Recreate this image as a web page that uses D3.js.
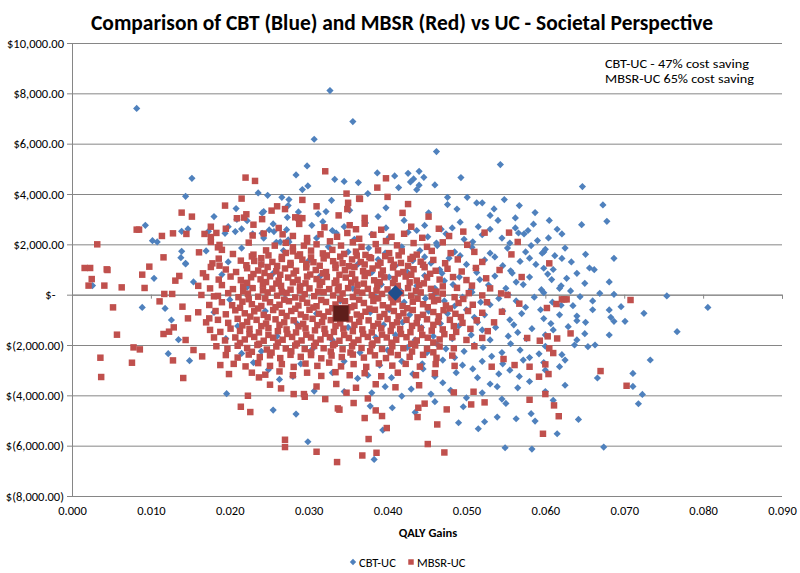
<!DOCTYPE html>
<html><head><meta charset="utf-8">
<script src="https://cdn.jsdelivr.net/npm/d3@7"></script>
<style>
body{margin:0;background:#fff;}
text{font-family:Carlito,Lato,"Open Sans",sans-serif;fill:#000;}
</style></head>
<body>
<svg id="chart" width="800" height="573"></svg>
<script>
const title = "Comparison of CBT (Blue) and MBSR (Red) vs UC - Societal Perspective";
const xTicks = [0,0.01,0.02,0.03,0.04,0.05,0.06,0.07,0.08,0.09];
const yTicks = [-8000,-6000,-4000,-2000,0,2000,4000,6000,8000,10000];
const seriesNames = ["CBT-UC","MBSR-UC"];
const notes = ["CBT-UC - 47% cost saving","MBSR-UC 65% cost saving"];
const cbtMean = [0.0410, 68];
const mbsrMean = [0.0341, -743];

const cbt = [
[0.0082,7400],[0.0327,8110],[0.0356,6878],[0.0307,6175],[0.0462,5686],[0.0543,5169],[0.0298,5117],
[0.0152,4624],[0.0144,3908],[0.0284,4759],[0.0292,4175],[0.0333,4584],[0.0345,4500],[0.0363,4453],[0.0387,4839],[0.0409,4719],[0.0426,4823],[0.0440,4903],[0.0446,4664],[0.0433,4600],[0.0493,4652],[0.0460,4362],[0.0414,4254],[0.0437,4170],[0.0440,4350],[0.0429,4480],[0.0375,4016],[0.0299,4320],[0.0647,4294],
[0.0093,2755],[0.0102,2147],[0.0108,2095],[0.0139,2517],[0.0147,2612],[0.0139,1722],[0.0144,1245],[0.0138,1471],[0.0170,1737],[0.0180,3101],[0.0208,3419],[0.0236,4043],[0.0248,3948],[0.0266,3869],[0.0275,3777],[0.0241,3248],[0.0243,3300],[0.0274,3539],[0.0287,3288],[0.0255,2811],[0.0273,3074],[0.0272,2584],[0.0209,2994],[0.0222,2942],[0.0215,2612],[0.0198,2703],[0.0194,2437],[0.0207,2505],[0.0229,2413],[0.0241,2437],[0.0243,2250],[0.0250,2572],[0.0256,2505],[0.0259,2079],[0.0264,2095],[0.0274,2175],[0.0275,2095],[0.0304,2755],[0.0173,2517],
[0.0312,3208],[0.0322,3300],[0.0329,3750],[0.0388,3101],[0.0476,3869],[0.0476,3580],[0.0501,3869],[0.0513,3646],[0.0520,3650],[0.0535,3408],[0.0548,3777],[0.0567,3539],[0.0587,3260],[0.0573,2413],[0.0598,1697],
[0.0673,3566],[0.0678,2914],[0.0646,2783],[0.0621,2413],[0.0604,2254],[0.0600,1800],[0.0596,1650],[0.0651,1602],[0.0687,1443],[0.0621,1440],[0.0633,1300],[0.0656,1060],
[0.0662,994],[0.0681,505],[0.0669,52],[0.0687,12],[0.0754,-52],[0.0806,-505],[0.0767,-1471],[0.0733,-2596],[0.0711,-3129],[0.0711,-3646],[0.0723,-3964],[0.0718,-4334],[0.0666,-3312],[0.0642,-4958],[0.0615,-5527],[0.0674,-6055],[0.0681,-608],[0.0683,-900],[0.0687,-1060],[0.0701,-1060],[0.0696,-477],[0.0725,-742],[0.0681,-1603],[0.0654,-2068],[0.0663,-2000],[0.0637,-2000],[0.0621,-2386],[0.0618,-2863],[0.0640,-1034],[0.0651,-1100],[0.0629,-1270],[0.0635,-437],[0.0644,-80],[0.0618,250],
[0.0026,360],[0.0104,650],[0.0144,1220],[0.0154,505],[0.0089,-505],[0.0118,-545],[0.0126,-1006],[0.0135,-1790],[0.0122,-2346],[0.0149,-2624],[0.0215,-2333],[0.0249,-2982],[0.0263,-3368],[0.0196,-3936],[0.0255,-4584],[0.0284,-4743],[0.0299,-5845],
[0.0383,-6547],[0.0394,-5380],[0.0549,-6083],[0.0583,-6135],[0.0515,-5328],[0.0523,-5050],[0.0490,-5090],[0.0460,-4254],[0.0496,-4453],[0.0539,-4863],[0.0563,-4930],[0.0582,-4731],[0.0587,-5022],[0.0550,-4322],[0.0539,-3658],[0.0435,-4677],[0.0406,-4493],[0.0378,-4425],[0.0418,-4030],[0.0397,-3658],[0.0362,-3328],[0.0307,-3830],
[0.0318,2900],[0.0345,2700],[0.0372,2850],[0.0398,2650],[0.0421,2950],[0.0447,2750],[0.0468,2600],[0.0492,2880],[0.0515,2700],[0.0540,2950],[0.0562,2650],[0.0585,2800],
[0.0310,2250],[0.0335,2450],[0.0358,2200],[0.0380,2400],[0.0402,2280],[0.0426,2480],[0.0451,2300],[0.0474,2420],[0.0497,2200],[0.0520,2380],[0.0545,2250],[0.0566,2450],[0.0590,2150],
[0.0215,1850],[0.0268,1750],[0.0325,1900],[0.0350,1700],[0.0376,1850],[0.0397,1650],[0.0418,1900],[0.0441,1750],[0.0463,1950],[0.0485,1700],[0.0507,1880],[0.0530,1650],[0.0552,1850],[0.0575,1700],
[0.0198,1300],[0.0240,1200],[0.0300,1350],[0.0362,1200],[0.0388,1400],[0.0410,1150],[0.0432,1350],[0.0455,1250],[0.0478,1450],[0.0500,1200],[0.0523,1380],[0.0546,1150],[0.0568,1320],[0.0588,1200],[0.0610,1000],
[0.0190,800],[0.0255,850],[0.0315,750],[0.0380,880],[0.0402,700],[0.0425,900],[0.0447,760],[0.0469,850],[0.0491,700],[0.0513,880],[0.0536,740],[0.0558,860],[0.0580,700],[0.0603,820],[0.0627,650],
[0.0222,300],[0.0290,350],[0.0356,250],[0.0392,400],[0.0415,200],[0.0437,350],[0.0460,250],[0.0483,400],[0.0506,220],[0.0528,380],[0.0550,250],[0.0572,400],[0.0595,200],[0.0620,350],
[0.0200,-200],[0.0270,-150],[0.0340,-250],[0.0385,-100],[0.0421,-300],[0.0448,-150],[0.0472,-250],[0.0495,-100],[0.0518,-300],[0.0541,-150],[0.0563,-250],[0.0586,-100],[0.0609,-300],[0.0660,-250],
[0.0180,-700],[0.0245,-650],[0.0310,-750],[0.0378,-700],[0.0402,-600],[0.0428,-800],[0.0452,-650],[0.0476,-750],[0.0500,-600],[0.0523,-800],[0.0546,-650],[0.0570,-750],[0.0594,-600],[0.0618,-800],
[0.0210,-1250],[0.0285,-1150],[0.0350,-1300],[0.0395,-1200],[0.0419,-1100],[0.0443,-1300],[0.0467,-1150],[0.0490,-1250],[0.0514,-1100],[0.0537,-1300],[0.0560,-1200],[0.0583,-1350],[0.0607,-1150],
[0.0195,-1750],[0.0260,-1650],[0.0330,-1800],[0.0385,-1700],[0.0410,-1600],[0.0435,-1800],[0.0458,-1650],[0.0482,-1750],[0.0506,-1600],[0.0530,-1800],[0.0553,-1650],[0.0576,-1750],[0.0600,-1600],
[0.0240,-2250],[0.0305,-2150],[0.0365,-2300],[0.0400,-2200],[0.0425,-2100],[0.0450,-2300],[0.0474,-2150],[0.0497,-2250],[0.0521,-2100],[0.0545,-2300],[0.0568,-2200],[0.0592,-2350],
[0.0230,-2700],[0.0290,-2750],[0.0345,-2650],[0.0390,-2800],[0.0418,-2650],[0.0444,-2750],[0.0470,-2600],[0.0495,-2800],[0.0520,-2650],[0.0546,-2750],[0.0572,-2600],[0.0598,-2700],
[0.0280,-3250],[0.0330,-3100],[0.0375,-3200],[0.0405,-3300],[0.0432,-3150],[0.0460,-3250],[0.0487,-3100],[0.0514,-3300],[0.0541,-3150],[0.0567,-3250],
[0.0345,-3850],[0.0380,-3900],[0.0430,-3750],[0.0455,-3950],[0.0480,-3800],[0.0520,-3900],[0.0565,-3700],[0.0600,-3850],
[0.0352,3350],[0.0398,3450],[0.0452,3250],[0.0488,3400],[0.0530,3150],[0.0562,3050],[0.0605,2950],
[0.0330,2550],[0.0437,2550],[0.0482,2650],[0.0530,2600],[0.0578,2550],[0.0615,2600],
[0.0462,2050],[0.0508,2100],[0.0555,2050],[0.0582,1950],[0.0625,1850],
[0.0447,1500],[0.0492,1550],[0.0536,1500],[0.0580,1450],[0.0612,1550],
[0.0466,1000],[0.0512,1050],[0.0556,950],[0.0598,1050],[0.0640,850],
[0.0472,550],[0.0517,600],[0.0563,500],[0.0608,600],[0.0650,450],
[0.0460,50],[0.0507,100],[0.0553,0],[0.0598,80],[0.0632,150],
[0.0485,-450],[0.0530,-400],[0.0575,-500],[0.0620,-420],[0.0660,-600],
[0.0465,-950],[0.0510,-900],[0.0555,-1000],[0.0598,-950],[0.0640,-850],
[0.0470,-1450],[0.0520,-1400],[0.0565,-1500],[0.0610,-1400],[0.0650,-1550],
[0.0462,-1950],[0.0510,-2000],[0.0556,-1950],[0.0600,-2050],[0.0640,-1800],
[0.0485,-2500],[0.0532,-2450],[0.0580,-2500],[0.0625,-2600],
[0.0445,-2950],[0.0508,-2950],[0.0555,-3000],[0.0600,-3000],
[0.0470,-3500],[0.0530,-3550],[0.0580,-3450],[0.0625,-3600],
[0.0500,-4100],[0.0545,-4150],[0.0610,-4200]
];

const mbsr = [
[0.0194,3539],[0.0220,4652],[0.0232,4520],[0.0215,3817],[0.0218,3062],[0.0221,3194],[0.0209,3036],[0.0139,3260],[0.0152,3101],[0.0253,3340],[0.0260,3511],[0.0287,3049],[0.0292,3765],[0.0321,4903],[0.0387,4254],[0.0398,4624],[0.0400,3885],[0.0348,4016],[0.0364,3817],[0.0350,3650],[0.0349,3400],[0.0310,3511],[0.0292,3040],[0.0338,3150],[0.0270,3400],[0.0241,3000],[0.0419,3250],[0.0371,3050],[0.0452,3100],[0.0426,3600],[0.0365,3805],[0.0283,3074],
[0.0085,2584],[0.0082,2584],[0.0114,2333],[0.0128,2437],[0.0116,1483],
[0.0176,2700],[0.0195,2620],[0.0230,2780],[0.0262,2650],[0.0288,2811],[0.0320,2676],[0.0352,2760],[0.0360,2600],[0.0371,2820],[0.0392,2580],[0.0430,2700],[0.0465,2620],[0.0496,2505],[0.0523,2465],[0.0554,2465],
[0.0145,2413],[0.0168,2413],[0.0183,2453],[0.0176,2290],[0.0229,2350],[0.0243,2430],[0.0267,2398],[0.0280,2333],[0.0298,2250],[0.0315,2400],[0.0336,2300],[0.0349,2450],[0.0364,2220],[0.0382,2380],[0.0405,2300],[0.0421,2420],[0.0444,2260],[0.0478,2330],
[0.0176,2095],[0.0185,1881],[0.0187,1976],[0.0224,2068],[0.0257,1948],[0.0294,1948],[0.0298,2107],[0.0310,2000],[0.0327,2120],[0.0341,1950],[0.0356,2080],[0.0367,1900],[0.0385,2010],[0.0398,2130],[0.0412,1960],[0.0433,2050],[0.0450,1900],[0.0470,2080],[0.0501,1980],[0.0565,2095],[0.0032,2000],[0.0271,2060],[0.0280,1880],
[0.0161,1682],[0.0204,1616],[0.0271,1657],[0.0280,1720],[0.0289,1600],[0.0303,1750],[0.0318,1640],[0.0330,1780],[0.0345,1620],[0.0360,1710],[0.0372,1580],[0.0388,1760],[0.0402,1650],[0.0418,1720],[0.0437,1590],[0.0456,1740],[0.0480,1650],[0.0510,1700],[0.0557,1600],[0.0246,1760],[0.0230,1590],[0.0190,1780],
[0.0098,1113],[0.0178,1245],[0.0186,1431],[0.0187,1153],[0.0214,1352],[0.0231,1339],[0.0240,1450],[0.0254,1300],[0.0266,1420],[0.0277,1260],[0.0292,1390],[0.0306,1290],[0.0319,1440],[0.0331,1330],[0.0343,1250],[0.0355,1400],[0.0366,1300],[0.0379,1450],[0.0391,1270],[0.0404,1380],[0.0417,1260],[0.0429,1420],[0.0442,1310],[0.0458,1380],[0.0473,1250],[0.0489,1400],[0.0520,1300],[0.0605,1245],[0.0044,1006],[0.0016,1060],[0.0023,1060],[0.0045,980],[0.0166,848],
[0.0195,1000],[0.0208,900],[0.0222,1050],[0.0236,960],[0.0248,1100],[0.0259,930],[0.0270,1040],[0.0284,950],[0.0297,1080],[0.0309,980],[0.0322,900],[0.0334,1060],[0.0346,970],[0.0358,1100],[0.0369,930],[0.0381,1040],[0.0394,960],[0.0407,1080],[0.0420,900],[0.0433,1010],[0.0447,1090],[0.0461,950],[0.0476,1030],[0.0494,920],[0.0512,1060],[0.0542,980],[0.0176,1100],[0.0089,795],
[0.0025,620],[0.0131,557],[0.0136,743],[0.0170,700],[0.0186,600],[0.0201,720],[0.0214,580],[0.0227,690],[0.0239,610],[0.0251,730],[0.0262,560],[0.0274,680],[0.0286,590],[0.0298,720],[0.0310,620],[0.0323,700],[0.0335,560],[0.0347,680],[0.0359,600],[0.0371,740],[0.0383,570],[0.0396,690],[0.0409,620],[0.0423,720],[0.0437,560],[0.0450,680],[0.0466,600],[0.0483,700],[0.0500,580],[0.0525,650],[0.0570,700],
[0.0021,360],[0.0041,360],[0.0063,290],[0.0092,266],[0.0117,28],[0.0127,28],[0.0164,-12],[0.0180,-66],[0.0160,350],[0.0175,250],[0.0190,380],[0.0204,220],[0.0217,330],[0.0229,260],[0.0242,400],[0.0254,240],[0.0265,350],[0.0277,200],[0.0289,330],[0.0301,250],[0.0314,380],[0.0326,220],[0.0338,320],[0.0350,260],[0.0362,390],[0.0375,230],[0.0387,340],[0.0400,210],[0.0413,350],[0.0426,260],[0.0440,380],[0.0455,230],[0.0470,330],[0.0488,270],[0.0507,360],[0.0530,250],[0.0552,-12],
[0.0185,-50],[0.0198,60],[0.0211,-100],[0.0223,40],[0.0236,-80],[0.0248,90],[0.0260,-40],[0.0272,70],[0.0283,-110],[0.0295,20],[0.0307,-60],[0.0319,100],[0.0331,-30],[0.0343,50],[0.0356,-90],[0.0368,80],[0.0380,-20],[0.0393,30],[0.0405,-110],[0.0417,60],[0.0430,-40],[0.0442,90],[0.0456,-70],[0.0470,40],[0.0485,-100],[0.0503,60],[0.0520,-30],[0.0544,50],[0.0621,-186],[0.0624,-186],[0.0627,-186],[0.0708,-212],
[0.0052,-505],[0.0111,-266],[0.0140,-477],[0.0174,-410],[0.0190,-300],[0.0203,-420],[0.0216,-280],[0.0228,-380],[0.0240,-450],[0.0251,-300],[0.0263,-400],[0.0275,-260],[0.0287,-430],[0.0298,-320],[0.0310,-460],[0.0322,-290],[0.0334,-390],[0.0346,-260],[0.0358,-440],[0.0370,-330],[0.0382,-250],[0.0394,-420],[0.0407,-300],[0.0419,-450],[0.0432,-280],[0.0445,-380],[0.0459,-260],[0.0474,-430],[0.0490,-330],[0.0508,-400],[0.0526,-300],[0.0567,-358],[0.0614,-371],[0.0602,-530],
[0.0147,-942],[0.0174,-942],[0.0160,-700],[0.0182,-650],[0.0195,-780],[0.0207,-620],[0.0219,-740],[0.0231,-660],[0.0243,-800],[0.0255,-610],[0.0266,-720],[0.0278,-650],[0.0290,-790],[0.0301,-600],[0.0313,-760],[0.0325,-680],[0.0349,-630],[0.0361,-790],[0.0372,-680],[0.0384,-600],[0.0396,-770],[0.0408,-650],[0.0420,-740],[0.0432,-610],[0.0445,-800],[0.0458,-690],[0.0471,-620],[0.0486,-760],[0.0502,-650],[0.0520,-720],[0.0545,-680],
[0.0129,-1300],[0.0170,-1100],[0.0185,-1000],[0.0198,-1120],[0.0210,-960],[0.0222,-1080],[0.0234,-1000],[0.0246,-1150],[0.0258,-980],[0.0269,-1100],[0.0281,-1020],[0.0293,-1160],[0.0305,-960],[0.0317,-1090],[0.0328,-1010],[0.0340,-1140],[0.0352,-980],[0.0364,-1080],[0.0376,-1020],[0.0388,-1150],[0.0400,-970],[0.0412,-1100],[0.0424,-1000],[0.0437,-1130],[0.0450,-980],[0.0464,-1080],[0.0479,-1000],[0.0495,-1120],[0.0513,-1020],[0.0535,-1100],
[0.0123,-1471],[0.0116,-1563],[0.0057,-1590],[0.0175,-1400],[0.0188,-1480],[0.0201,-1350],[0.0213,-1440],[0.0225,-1360],[0.0237,-1500],[0.0249,-1330],[0.0261,-1450],[0.0272,-1380],[0.0284,-1500],[0.0296,-1340],[0.0308,-1420],[0.0320,-1360],[0.0332,-1480],[0.0344,-1350],[0.0356,-1450],[0.0368,-1380],[0.0380,-1500],[0.0392,-1340],[0.0404,-1440],[0.0416,-1370],[0.0429,-1490],[0.0442,-1350],[0.0456,-1430],[0.0470,-1380],[0.0487,-1480],[0.0505,-1360],[0.0527,-1450],[0.0632,-1540],
[0.0144,-1801],[0.0180,-1700],[0.0194,-1820],[0.0207,-1700],[0.0219,-1780],[0.0231,-1680],[0.0243,-1830],[0.0255,-1710],[0.0267,-1790],[0.0279,-1680],[0.0291,-1820],[0.0303,-1700],[0.0315,-1780],[0.0327,-1690],[0.0339,-1830],[0.0351,-1720],[0.0363,-1800],[0.0375,-1680],[0.0387,-1810],[0.0399,-1700],[0.0411,-1790],[0.0424,-1690],[0.0437,-1820],[0.0451,-1710],[0.0466,-1780],[0.0482,-1690],[0.0500,-1800],[0.0520,-1720],[0.0577,-1722],[0.0593,-1830],[0.0603,-1656],[0.0615,-1740],
[0.0078,-2095],[0.0086,-2175],[0.0154,-2200],[0.0183,-2050],[0.0197,-2150],[0.0210,-2030],[0.0222,-2120],[0.0235,-2000],[0.0247,-2180],[0.0259,-2060],[0.0271,-2140],[0.0283,-2020],[0.0295,-2160],[0.0307,-2040],[0.0319,-2130],[0.0331,-2010],[0.0343,-2170],[0.0355,-2050],[0.0367,-2120],[0.0380,-2010],[0.0393,-2160],[0.0406,-2050],[0.0420,-2130],[0.0435,-2020],[0.0450,-2150],[0.0466,-2060],[0.0484,-2130],[0.0510,-2050],[0.0605,-2134],
[0.0036,-2505],[0.0165,-2453],[0.0128,-2612],[0.0195,-2400],[0.0210,-2500],[0.0224,-2380],[0.0238,-2480],[0.0251,-2410],[0.0264,-2520],[0.0277,-2390],[0.0290,-2470],[0.0303,-2400],[0.0316,-2530],[0.0329,-2420],[0.0342,-2480],[0.0356,-2380],[0.0370,-2500],[0.0384,-2410],[0.0398,-2520],[0.0413,-2400],[0.0428,-2470],[0.0445,-2390],[0.0462,-2510],[0.0482,-2420],[0.0547,-2557],[0.0610,-2320],
[0.0076,-2704],[0.0188,-2797],[0.0205,-2750],[0.0220,-2850],[0.0236,-2720],[0.0251,-2830],[0.0266,-2760],[0.0281,-2870],[0.0296,-2740],[0.0311,-2830],[0.0326,-2700],[0.0341,-2850],[0.0357,-2760],[0.0373,-2870],[0.0389,-2730],[0.0406,-2820],[0.0423,-2750],[0.0441,-2860],[0.0461,-2760],[0.0485,-2830],[0.0532,-2863],[0.0561,-2797],[0.0580,-2863],[0.0600,-2770],
[0.0037,-3272],[0.0141,-3312],[0.0199,-3155],[0.0237,-3288],[0.0228,-3100],[0.0245,-3180],[0.0263,-3050],[0.0280,-3200],[0.0298,-3100],[0.0316,-3230],[0.0334,-3080],[0.0352,-3200],[0.0371,-3120],[0.0392,-3240],[0.0413,-3100],[0.0436,-3200],[0.0460,-3120],[0.0592,-3260],[0.0604,-3155],[0.0670,-3036],
[0.0251,-3578],[0.0265,-3725],[0.0281,-3950],[0.0295,-4056],[0.0294,-3950],[0.0321,-4150],[0.0348,-3896],[0.0310,-3650],[0.0335,-3550],[0.0360,-3700],[0.0385,-3560],[0.0410,-3680],[0.0484,-3885],[0.0509,-3857],[0.0600,-3950],[0.0703,-3620],[0.0440,-3600],[0.0223,-4016],
[0.0214,-4453],[0.0226,-4664],[0.0337,-4520],[0.0339,-4570],[0.0357,-4306],[0.0375,-4123],[0.0371,-4903],[0.0393,-4823],[0.0385,-4600],[0.0439,-4493],[0.0438,-4863],[0.0447,-4330],[0.0475,-4560],[0.0506,-4362],[0.0523,-4280],[0.0580,-4175],[0.0611,-4400],[0.0617,-4830],
[0.0270,-5765],[0.0270,-6055],[0.0336,-6652],[0.0310,-6242],[0.0368,-6390],[0.0386,-6282],[0.0472,-6270],[0.0451,-5936],[0.0376,-5737],[0.0399,-5300],[0.0463,-5157],[0.0597,-5527],
[0.0228,1520],[0.0249,1560],[0.0266,1500],[0.0286,1540],[0.0303,1480],[0.0323,1560],[0.0340,1510],[0.0361,1550],[0.0377,1490],[0.0397,1530],[0.0414,1560],[0.0432,1500],
[0.0221,1170],[0.0240,1200],[0.0260,1140],[0.0277,1180],[0.0297,1210],[0.0314,1150],[0.0334,1190],[0.0351,1130],[0.0371,1200],[0.0388,1160],[0.0408,1190],[0.0426,1140],[0.0445,1190],
[0.0230,820],[0.0244,860],[0.0264,790],[0.0281,840],[0.0302,800],[0.0318,850],[0.0339,790],[0.0355,830],[0.0375,860],[0.0392,800],[0.0413,840],[0.0430,790],[0.0454,830],
[0.0222,470],[0.0246,500],[0.0259,440],[0.0280,490],[0.0296,450],[0.0317,510],[0.0333,460],[0.0354,480],[0.0370,440],[0.0390,500],[0.0407,460],[0.0428,490],[0.0446,450],
[0.0217,130],[0.0242,170],[0.0266,110],[0.0289,160],[0.0312,120],[0.0337,170],[0.0361,130],[0.0386,160],[0.0410,110],[0.0436,150],[0.0462,120],
[0.0224,-180],[0.0245,-150],[0.0269,-200],[0.0292,-160],[0.0316,-210],[0.0340,-170],[0.0364,-200],[0.0388,-150],[0.0413,-190],[0.0438,-160],[0.0464,-200],[0.0496,-170],
[0.0213,-520],[0.0236,-550],[0.0258,-500],[0.0283,-560],[0.0306,-510],[0.0330,-540],[0.0354,-500],[0.0377,-560],[0.0401,-510],[0.0425,-540],[0.0451,-500],[0.0479,-550],
[0.0226,-870],[0.0248,-900],[0.0272,-850],[0.0296,-890],[0.0319,-860],[0.0343,-900],[0.0366,-850],[0.0390,-880],[0.0414,-860],[0.0438,-900],[0.0465,-860],[0.0493,-890],
[0.0216,-1220],[0.0240,-1250],[0.0263,-1200],[0.0287,-1260],[0.0311,-1210],[0.0334,-1240],[0.0358,-1200],[0.0382,-1250],[0.0406,-1210],[0.0431,-1240],[0.0458,-1200],[0.0484,-1250],
[0.0225,-1570],[0.0249,-1600],[0.0273,-1560],[0.0297,-1590],[0.0321,-1550],[0.0345,-1600],[0.0369,-1560],[0.0393,-1590],[0.0417,-1560],[0.0444,-1600],[0.0472,-1570],
[0.0213,-1920],[0.0237,-1950],[0.0261,-1900],[0.0285,-1940],[0.0309,-1910],[0.0333,-1950],[0.0357,-1900],[0.0381,-1940],[0.0405,-1910],[0.0430,-1950],[0.0458,-1900],
[0.0228,-2270],[0.0253,-2300],[0.0278,-2250],[0.0303,-2290],[0.0328,-2260],[0.0353,-2300],[0.0378,-2250],[0.0404,-2290],[0.0431,-2260],[0.0458,-2290]
];

const svg = d3.select("#chart");
const x = d3.scaleLinear().domain([0, 0.09]).range([72, 782]);
const y = d3.scaleLinear().domain([-8000, 10000]).range([496, 43]);

const blue = "#4F81BD", red = "#C0504D", gridC = "#868686";
const ff = "Carlito,Lato,'Open Sans',sans-serif";

// title
svg.append("text").attr("x", 402).attr("y", 30).attr("text-anchor", "middle")
  .attr("font-size", 22).attr("font-weight", "bold")
  .attr("textLength", 622).attr("lengthAdjust", "spacingAndGlyphs")
  .text(title);

// gridlines
svg.append("g")
  .attr("transform", `translate(${x(0)},0)`)
  .call(d3.axisRight(y).tickValues(yTicks).tickSize(x(0.09) - x(0)).tickFormat(""))
  .call(g => g.select(".domain").remove())
  .call(g => g.selectAll("line").attr("stroke", gridC).attr("stroke-width", 1));

// y axis
const yFmt = v => v === 0 ? "$-   " : (v > 0 ? "$" + d3.format(",.2f")(v) : "$(" + d3.format(",.2f")(-v) + ")");
svg.append("g").attr("transform", `translate(${x(0)},0)`)
  .call(d3.axisLeft(y).tickValues(yTicks).tickSize(5).tickPadding(3).tickFormat(yFmt))
  .call(g => g.select(".domain").attr("stroke", gridC))
  .call(g => g.selectAll("line").attr("stroke", gridC))
  .call(g => g.selectAll("text").attr("font-size", 12.5).style("font-family", ff).style("white-space", "pre"));

// x axis at zero (ticks, no labels)
svg.append("g").attr("transform", `translate(0,${y(0)})`)
  .call(d3.axisBottom(x).tickValues(xTicks).tickSize(4).tickFormat(""))
  .call(g => g.select(".domain").attr("stroke", gridC))
  .call(g => g.selectAll("line").attr("stroke", gridC));

// x labels at bottom
svg.append("g").attr("transform", `translate(0,${y(-8000)})`)
  .call(d3.axisBottom(x).tickValues(xTicks).tickSize(0).tickPadding(10).tickFormat(d3.format(".3f")))
  .call(g => g.select(".domain").remove())
  .call(g => g.selectAll("text").attr("font-size", 12.5).style("font-family", ff));

svg.append("text").attr("x", 428).attr("y", 537).attr("text-anchor", "middle")
  .attr("font-size", 12.5).attr("font-weight", "bold").text("QALY Gains");

// points
const diamond = d3.symbol().type(d3.symbolSquare).size(26)();
const bigDiamond = d3.symbol().type(d3.symbolSquare).size(120)();
const square = d3.symbol().type(d3.symbolSquare).size(42)();
const bigSquare = d3.symbol().type(d3.symbolSquare).size(250)();

svg.append("g").selectAll("path").data(cbt).join("path")
  .attr("d", diamond).attr("fill", blue)
  .attr("transform", d => `translate(${x(d[0])},${y(d[1])}) rotate(45)`);

svg.append("g").selectAll("path").data(mbsr).join("path")
  .attr("d", square).attr("fill", red)
  .attr("transform", d => `translate(${x(d[0])},${y(d[1])})`);

svg.append("path").datum(cbtMean).attr("d", bigDiamond).attr("fill", "#1F4E8C")
  .attr("transform", d => `translate(${x(d[0])},${y(d[1])}) rotate(45)`);
svg.append("path").datum(mbsrMean).attr("d", bigSquare).attr("fill", "#5E1E1B")
  .attr("stroke", "#8A3431").attr("stroke-width", 1)
  .attr("transform", d => `translate(${x(d[0])},${y(d[1])})`);

// notes
const noteW = [144, 149];
svg.append("g").selectAll("text").data(notes).join("text")
  .attr("x", 605).attr("y", (d, i) => 68 + i * 15)
  .attr("font-size", 12.5)
  .attr("textLength", (d, i) => noteW[i]).attr("lengthAdjust", "spacingAndGlyphs")
  .text(d => d);

// legend
const leg = svg.append("g").attr("transform", "translate(353,562)");
leg.append("path").attr("d", d3.symbol().type(d3.symbolSquare).size(20)()).attr("fill", blue).attr("transform", "rotate(45)");
leg.append("text").attr("x", 6).attr("y", 4.5).attr("font-size", 12.5).text(seriesNames[0]);
leg.append("path").attr("d", d3.symbol().type(d3.symbolSquare).size(30)()).attr("fill", red).attr("transform", "translate(58,0)");
leg.append("text").attr("x", 64).attr("y", 4.5).attr("font-size", 12.5).text(seriesNames[1]);
</script>
</body></html>
